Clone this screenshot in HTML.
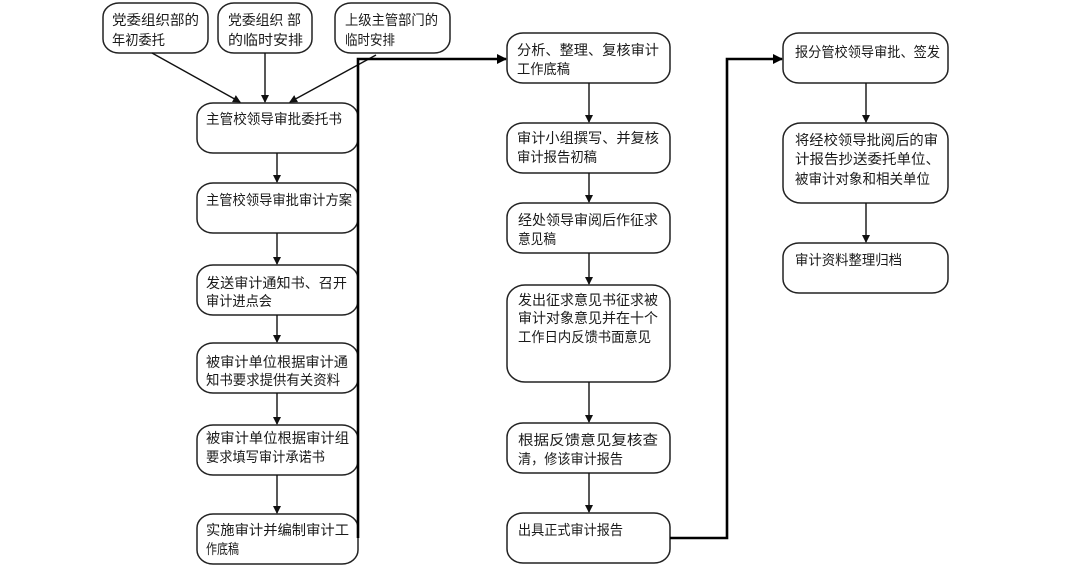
<!DOCTYPE html>
<html><head><meta charset="utf-8"><style>
html,body{margin:0;padding:0;background:#fff;}
svg{display:block;}
text{font-family:"Liberation Sans","Noto Sans CJK SC","WenQuanYi Zen Hei",sans-serif;font-size:14px;fill:#1a1a1a;}
</style></head><body>
<svg width="1079" height="585" viewBox="0 0 1079 585" xmlns="http://www.w3.org/2000/svg">
<defs>
<marker id="ah" markerWidth="8" markerHeight="8" refX="7" refY="4" orient="auto" markerUnits="userSpaceOnUse">
<path d="M0,0 L8,4 L0,8 Z" fill="#111"/></marker>
<marker id="ahb" markerWidth="10" markerHeight="10" refX="9" refY="5" orient="auto" markerUnits="userSpaceOnUse">
<path d="M0,0 L10,5 L0,10 Z" fill="#000"/></marker>
</defs>
<g fill="#fff" stroke="#222" stroke-width="1.5">
<!-- top boxes -->
<rect x="103" y="3" width="105" height="50" rx="16" ry="14"/>
<rect x="218" y="3" width="94" height="50" rx="16" ry="14"/>
<rect x="335" y="3" width="115" height="50" rx="16" ry="14"/>
<!-- left column -->
<rect x="197" y="103" width="161" height="50" rx="16" ry="14"/>
<rect x="197" y="183" width="161" height="50" rx="16" ry="14"/>
<rect x="197" y="265" width="161" height="50" rx="16" ry="14"/>
<rect x="197" y="343" width="161" height="50" rx="16" ry="14"/>
<rect x="197" y="425" width="161" height="50" rx="16" ry="14"/>
<rect x="197" y="514" width="161" height="50" rx="16" ry="14"/>
<!-- middle column -->
<rect x="507" y="33" width="163" height="50" rx="16" ry="14"/>
<rect x="507" y="123" width="163" height="50" rx="16" ry="14"/>
<rect x="507" y="203" width="163" height="50" rx="16" ry="14"/>
<rect x="507" y="285" width="163" height="97" rx="18" ry="16"/>
<rect x="507" y="423" width="163" height="50" rx="16" ry="14"/>
<rect x="507" y="513" width="163" height="50" rx="16" ry="14"/>
<!-- right column -->
<rect x="783" y="33" width="165" height="50" rx="16" ry="14"/>
<rect x="783" y="123" width="165" height="80" rx="18" ry="16"/>
<rect x="783" y="243" width="165" height="50" rx="16" ry="14"/>
</g>
<g stroke="#111" stroke-width="1.4" fill="none" marker-end="url(#ah)">
<line x1="152" y1="53" x2="240" y2="102"/>
<line x1="265" y1="53" x2="265" y2="102"/>
<line x1="376" y1="55" x2="290" y2="102"/>
<line x1="277" y1="153" x2="277" y2="182"/>
<line x1="277" y1="233" x2="277" y2="264"/>
<line x1="277" y1="315" x2="277" y2="342"/>
<line x1="277" y1="393" x2="277" y2="424"/>
<line x1="277" y1="475" x2="277" y2="513"/>
<line x1="589" y1="83" x2="589" y2="122"/>
<line x1="589" y1="173" x2="589" y2="202"/>
<line x1="589" y1="253" x2="589" y2="284"/>
<line x1="589" y1="382" x2="589" y2="422"/>
<line x1="589" y1="473" x2="589" y2="512"/>
<line x1="866" y1="83" x2="866" y2="122"/>
<line x1="866" y1="203" x2="866" y2="242"/>
</g>
<g stroke="#000" stroke-width="2.6" fill="none" marker-end="url(#ahb)">
<path d="M358,538 L358,59 L506,59"/>
<path d="M670,538 L727,538 L727,59 L782,59"/>
</g>
<!-- texts -->
<text x="112" y="25" textLength="87" lengthAdjust="spacingAndGlyphs">党委组织部的</text>
<text x="112" y="45" textLength="53" lengthAdjust="spacingAndGlyphs">年初委托</text>
<text x="228" y="25" textLength="73" lengthAdjust="spacingAndGlyphs">党委组织 部</text>
<text x="228" y="45" textLength="75" lengthAdjust="spacingAndGlyphs">的临时安排</text>
<text x="345" y="25" textLength="93" lengthAdjust="spacingAndGlyphs">上级主管部门的</text>
<text x="345" y="45" textLength="50" lengthAdjust="spacingAndGlyphs">临时安排</text>

<text x="206" y="124" textLength="136" lengthAdjust="spacingAndGlyphs">主管校领导审批委托书</text>
<text x="206" y="205" textLength="146" lengthAdjust="spacingAndGlyphs">主管校领导审批审计方案</text>
<text x="206" y="288" textLength="141" lengthAdjust="spacingAndGlyphs">发送审计通知书、召开</text>
<text x="206" y="306" textLength="66" lengthAdjust="spacingAndGlyphs">审计进点会</text>
<text x="206" y="367" textLength="142" lengthAdjust="spacingAndGlyphs">被审计单位根据审计通</text>
<text x="206" y="385" textLength="134" lengthAdjust="spacingAndGlyphs">知书要求提供有关资料</text>
<text x="206" y="443" textLength="143" lengthAdjust="spacingAndGlyphs">被审计单位根据审计组</text>
<text x="206" y="462" textLength="119" lengthAdjust="spacingAndGlyphs">要求填写审计承诺书</text>
<text x="206" y="535" textLength="143" lengthAdjust="spacingAndGlyphs">实施审计并编制审计工</text>
<text x="206" y="554" textLength="33" lengthAdjust="spacingAndGlyphs">作底稿</text>

<text x="517" y="55" textLength="142" lengthAdjust="spacingAndGlyphs">分析、整理、复核审计</text>
<text x="517" y="74" textLength="53" lengthAdjust="spacingAndGlyphs">工作底稿</text>
<text x="517" y="143" textLength="142" lengthAdjust="spacingAndGlyphs">审计小组撰写、并复核</text>
<text x="517" y="162" textLength="80" lengthAdjust="spacingAndGlyphs">审计报告初稿</text>
<text x="518" y="225" textLength="140" lengthAdjust="spacingAndGlyphs">经处领导审阅后作征求</text>
<text x="518" y="244" textLength="38" lengthAdjust="spacingAndGlyphs">意见稿</text>
<text x="518" y="305" textLength="140" lengthAdjust="spacingAndGlyphs">发出征求意见书征求被</text>
<text x="518" y="323" textLength="140" lengthAdjust="spacingAndGlyphs">审计对象意见并在十个</text>
<text x="518" y="342" textLength="133" lengthAdjust="spacingAndGlyphs">工作日内反馈书面意见</text>
<text x="518" y="445" textLength="140" lengthAdjust="spacingAndGlyphs">根据反馈意见复核查</text>
<text x="518" y="464" textLength="105" lengthAdjust="spacingAndGlyphs">清，修该审计报告</text>
<text x="518" y="535" textLength="105" lengthAdjust="spacingAndGlyphs">出具正式审计报告</text>

<text x="795" y="57" textLength="145" lengthAdjust="spacingAndGlyphs">报分管校领导审批、签发</text>
<text x="795" y="145" textLength="143" lengthAdjust="spacingAndGlyphs">将经校领导批阅后的审</text>
<text x="795" y="164" textLength="145" lengthAdjust="spacingAndGlyphs">计报告抄送委托单位、</text>
<text x="795" y="184" textLength="135" lengthAdjust="spacingAndGlyphs">被审计对象和相关单位</text>
<text x="795" y="265" textLength="107" lengthAdjust="spacingAndGlyphs">审计资料整理归档</text>
</svg>
</body></html>
